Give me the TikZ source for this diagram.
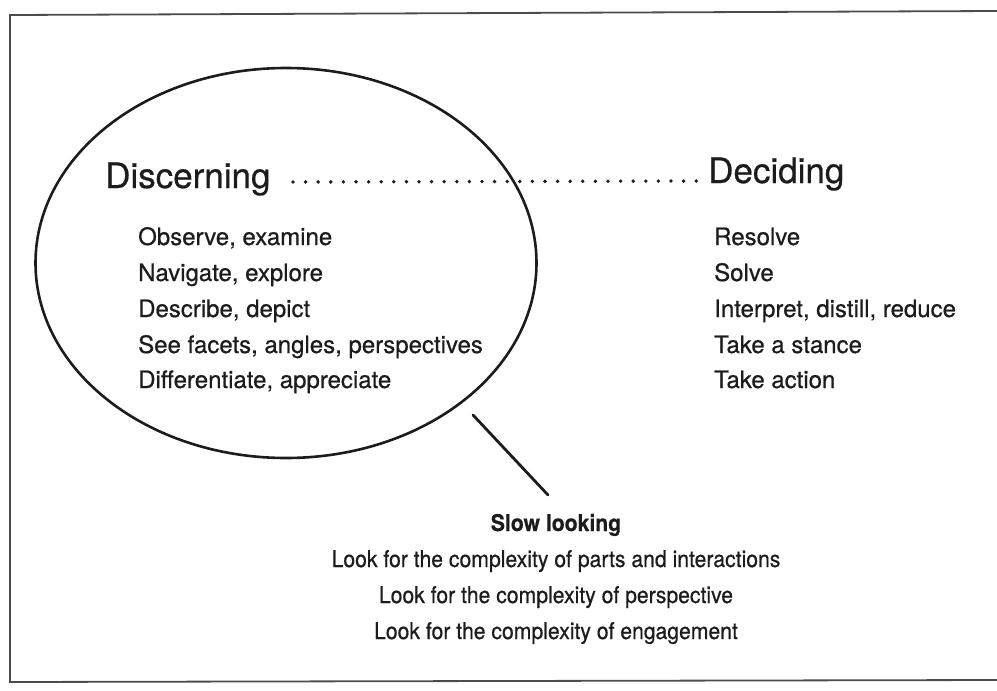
\documentclass[tikz,border=0pt]{standalone}
\usepackage{fontspec}
\setmainfont{TeX Gyre Heros}
\newfontfamily\heavyfont[FakeBold=0.6]{TeX Gyre Heros}
\usetikzlibrary{shapes.geometric}
\definecolor{ink}{HTML}{1C1C1C}
\tikzset{
  heading/.style={anchor=base west, inner sep=0pt, text=ink, font=\heavyfont\fontsize{35}{42}\selectfont},
  listitem/.style={anchor=base west, inner sep=0pt, text=ink, font=\heavyfont\fontsize{24}{28}\selectfont},
  bottomitem/.style={anchor=base, inner sep=0pt, text=ink, font=\heavyfont\fontsize{23}{28}\selectfont},
  dotline/.style={line width=3.8pt, line cap=round, dash pattern=on 0pt off 12.6pt, ink},
  frameline/.style={line width=1.8pt, black!70},
  bubble/.style={ellipse, draw=ink, line width=2.6pt, minimum width=501pt, minimum height=390pt, inner sep=0pt},
  pointer/.style={line width=2.8pt, ink, line cap=round}
}
\begin{document}
\begin{tikzpicture}[x=1pt,y=-1pt]
\useasboundingbox (0,0) rectangle (997,691);
% frame
\draw[frameline] (997,11) -- (10,15) -- (10,682) -- (997,680);
% ellipse
\node[bubble] (bubble) at (286,263) {};
% headings
\node[heading] (disc) at (105,188) {Discerning};
\node[heading] (deci) at (708,183) {Deciding};
\coordinate (dotA) at (293,182);
\coordinate (dotB) at (699,181);
\draw[dotline] (dotA) -- (dotB);
% left list
\node[listitem] (l1) at (138,245) {Observe, examine};
\node[listitem] (l2) at (138,281) {Navigate, explore};
\node[listitem] (l3) at (138,317) {Describe, depict};
\node[listitem] (l4) at (138,353) {See facets, angles, perspectives};
\node[listitem] (l5) at (138,388) {Differentiate, appreciate};
% right list
\node[listitem] (r1) at (714,245) {Resolve};
\node[listitem] (r2) at (714,281) {Solve};
\node[listitem] (r3) at (714,317) {Interpret, distill, reduce};
\node[listitem] (r4) at (714,353) {Take a stance};
\node[listitem] (r5) at (714,388) {Take action};
% bottom
\node[bottomitem] (slow) at (556,531) {\scalebox{0.92}[1]{\bfseries Slow looking}};
\node[bottomitem] (b1) at (556,567) {\scalebox{0.92}[1]{Look for the complexity of parts and interactions}};
\node[bottomitem] (b2) at (556,603) {\scalebox{0.92}[1]{Look for the complexity of perspective}};
\node[bottomitem] (b3) at (556,639) {\scalebox{0.92}[1]{Look for the complexity of engagement}};
\coordinate (ptrA) at (473,415);
\coordinate (ptrB) at (548,495);
\draw[pointer] (ptrA) -- (ptrB);
\end{tikzpicture}
\end{document}
